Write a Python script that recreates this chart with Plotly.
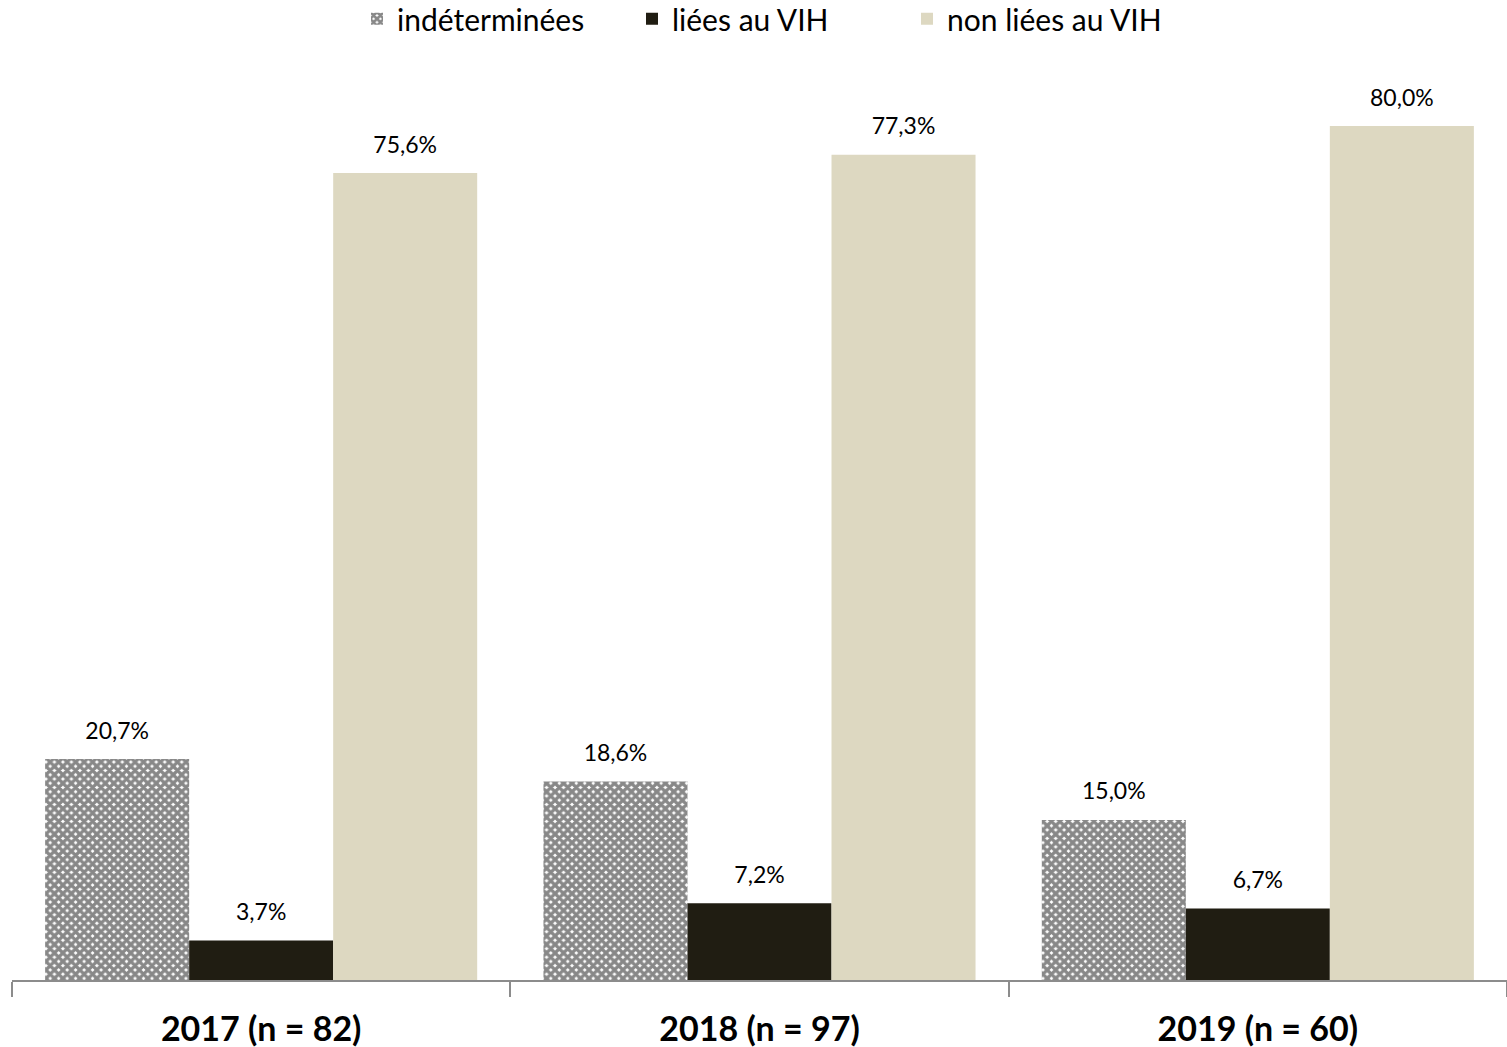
import plotly.graph_objects as go

categories = ["2017 (n = 82)", "2018 (n = 97)", "2019 (n = 60)"]
series_names = ["indéterminées", "liées au VIH", "non liées au VIH"]
indeterminees = [20.7, 18.6, 15.0]
liees = [3.7, 7.2, 6.7]
non_liees = [75.6, 77.3, 80.0]

values = [indeterminees, liees, non_liees]
colors = ["#FFFFFF", "#201D12", "#DDD8C1"]

FONT = "Lato"

def fmt(v):
    return f"{v:.1f}%".replace(".", ",")

fig = go.Figure()
for i, (name, vals) in enumerate(zip(series_names, values)):
    if i == 0:
        marker = dict(color="#FFFFFF",
                      pattern=dict(shape="x", fgcolor="#111111", bgcolor="#FFFFFF",
                                   size=6, solidity=0.8, fillmode="overlay"),
                      line=dict(width=0))
    else:
        marker = dict(color=colors[i], line=dict(width=0))
    fig.add_trace(go.Bar(
        x=categories, y=vals, name=name, marker=marker,
        offsetgroup=str(i), alignmentgroup="g",
    ))
for i, vals in enumerate(values):
    fig.add_trace(go.Scatter(
        x=categories, y=vals, mode="markers+text",
        text=[fmt(v) for v in vals], textposition="top center",
        textfont=dict(family=FONT, size=23, color="#000000"),
        marker=dict(size=22, opacity=0),
        offsetgroup=str(i), alignmentgroup="g",
        showlegend=False, hoverinfo="skip", cliponaxis=False,
    ))

fig.update_layout(
    width=1507, height=1047,
    margin=dict(l=12, r=0, t=62, b=67),
    paper_bgcolor="white", plot_bgcolor="white",
    barmode="group", bargap=0.133, bargroupgap=0,
    scattermode="group", scattergap=0.133,
    font=dict(family=FONT, color="#000000"),
    legend=dict(orientation="h", x=357 / 1507, xref="container", xanchor="left",
                y=0.982, yref="container", yanchor="middle",
                font=dict(family=FONT, size=30, color="#000000"),
                itemwidth=30, entrywidth=230, traceorder="normal"),
    showlegend=True,
)
fig.update_xaxes(
    type="category", showline=True, linecolor="#8c8c8c", linewidth=2,
    ticks="outside", tickson="boundaries", ticklen=15, tickcolor="#8c8c8c", tickwidth=2,
    ticklabelstandoff=18,
    tickfont=dict(family=FONT, size=34, color="#000000", weight="bold"),
    showgrid=False, zeroline=False,
)
fig.update_yaxes(range=[0, 86], visible=False, showgrid=False, zeroline=False)

fig.write_html("out.html")
